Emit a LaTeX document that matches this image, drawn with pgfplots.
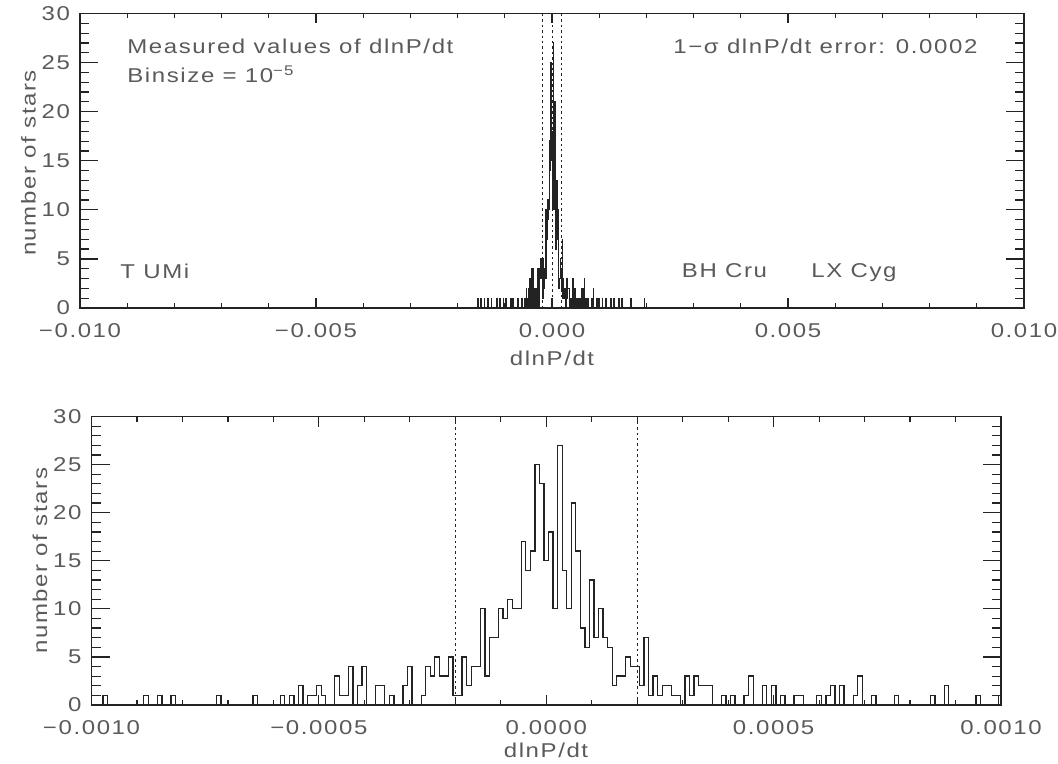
\documentclass[border=0pt]{standalone}
\usepackage{fontspec}
\setmainfont{Liberation Sans}[FakeStretch=1.2,LetterSpace=8]
\usepackage{pgfplots}
\pgfplotsset{compat=1.18}
\usepackage{pgfplotstable}
\definecolor{txt}{RGB}{90,90,90}
\definecolor{ax}{RGB}{35,35,35}

% x in units of 1e-5 (bin centres), n = number of stars
\pgfplotstableread[row sep=\\]{
x n\\
-160 0\\ -158 0\\ -157 1\\ -156 0\\ -151 0\\ -150 1\\ -149 0\\ -144 0\\ -143 1\\ -142 0\\
-136 0\\ -135 1\\ -134 0\\ -129 0\\ -128 1\\ -127 0\\ -118 0\\ -117 1\\ -116 0\\ -111 0\\
-110 1\\ -109 0\\ -104 0\\ -103 1\\ -102 0\\ -98 0\\ -97 1\\ -96 0\\ -89 0\\ -88 1\\
-87 0\\ -86 0\\ -85 1\\ -84 0\\ -83 0\\ -82 1\\ -81 0\\ -73 0\\ -72 1\\ -71 0\\
-65 0\\ -64 1\\ -63 0\\ -59 0\\ -58 1\\ -57 0\\ -56 1\\ -55 0\\ -54 2\\ -53 0\\ -52 1\\ -51 1\\
-50 2\\ -49 1\\ -48 0\\ -47 0\\ -46 3\\ -45 1\\ -44 1\\ -43 4\\ -42 0\\ -41 2\\
-40 4\\ -39 0\\ -38 0\\ -37 2\\ -36 2\\ -35 0\\ -34 1\\ -33 0\\ -32 0\\ -31 2\\
-30 4\\ -29 0\\ -28 0\\ -27 1\\ -26 4\\ -25 3\\ -24 5\\ -23 3\\ -22 3\\ -21 5\\
-20 1\\ -19 1\\ -18 5\\ -17 2\\ -16 4\\ -15 4\\ -14 10\\ -13 3\\ -12 7\\ -11 7\\
-10 10\\ -9 9\\ -8 11\\ -7 10\\ -6 10\\ -5 17\\ -4 14\\ -3 16\\ -2 25\\ -1 23\\
0 15\\ 1 18\\ 2 10\\ 3 27\\ 4 14\\ 5 10\\ 6 21\\ 7 16\\ 8 8\\ 9 6\\
10 13\\ 11 7\\ 12 10\\ 13 7\\ 14 6\\ 15 2\\ 16 3\\ 17 3\\ 18 5\\ 19 4\\
20 4\\ 21 2\\ 22 7\\ 23 1\\ 24 3\\ 25 1\\ 26 2\\ 27 2\\ 28 1\\ 29 1\\
30 0\\ 31 3\\ 32 1\\ 33 3\\ 34 2\\ 35 2\\ 36 2\\ 37 0\\ 38 0\\ 39 1\\
40 0\\ 41 1\\ 42 0\\ 43 0\\ 44 1\\ 45 3\\ 46 0\\ 47 0\\ 48 2\\ 49 0\\
50 2\\ 51 0\\ 52 1\\ 53 0\\ 54 0\\ 55 1\\ 56 1\\ 57 0\\ 58 0\\ 59 0\\
60 1\\ 61 0\\ 62 1\\ 63 2\\ 64 0\\ 65 2\\ 66 0\\ 67 0\\ 68 1\\ 69 3\\
70 0\\ 71 0\\ 72 1\\ 73 0\\ 76 0\\ 77 1\\ 78 0\\ 84 0\\ 85 1\\ 86 0\\
87 0\\ 88 2\\ 89 0\\ 94 0\\ 95 1\\ 96 0\\ 99 0\\ 100 1\\ 101 0\\ 106 0\\
107 1\\ 108 0\\ 113 0\\ 114 1\\ 115 0\\ 124 0\\ 125 1\\ 126 0\\ 131 0\\ 132 1\\
133 0\\ 141 0\\ 142 1\\ 143 0\\ 148 0\\ 149 1\\ 150 0\\ 166 0\\ 167 1\\ 168 0\\
195 0\\ 196 1\\ 197 0\\ 200 0\\
}\hist

\pgfplotsset{
  myaxis/.style={
    scale only axis, anchor=south west,
    ymin=0, ymax=30,
    ytick={0,5,10,15,20,25,30}, yticklabels={0,5,10,15,20,25,30},
    minor x tick num=4, minor y tick num=4,
    axis line style={ax, line width=0.7pt},
    every tick/.style={ax, line width=0.6pt},
    xtick style={/pgfplots/major tick length=5pt,/pgfplots/minor tick length=2.5pt},
    ytick style={/pgfplots/major tick length=9pt,/pgfplots/minor tick length=4.5pt},
    tick label style={font=\fontsize{10}{12}\selectfont, text=txt},
    xticklabel style={yshift=-4pt},
    yticklabel style={xshift=-1.5pt},
    scaled ticks=false,
  },
  histo/.style={const plot mark mid, ax, line width=0.65pt, mark=none},
  sig/.style={ax, line width=0.5pt, dash pattern=on 1.2pt off 1.5pt, mark=none},
}

\begin{document}
\begin{tikzpicture}[font=\fontsize{10}{12}\selectfont]
\path[use as bounding box] (0,0) rectangle (529pt,382pt);

\begin{axis}[myaxis, at={(40pt,228pt)}, width=472pt, height=147.25pt,
  xmin=-1000, xmax=1000, xtick={-1000,-500,0,500,1000},
  xticklabels={−0.010,−0.005,0.000,0.005,0.010}]
\addplot[histo] table[x=x,y=n]{\hist};
\addplot[sig] coordinates {(-20,0) (-20,30)};
\addplot[sig] coordinates {(0,0) (0,30)};
\addplot[sig] coordinates {(20,0) (20,30)};
\end{axis}

\begin{axis}[myaxis, at={(45.75pt,29.5pt)}, width=454.75pt, height=144.25pt,
  xmin=-100, xmax=100, xtick={-100,-50,0,50,100},
  xticklabels={−0.0010,−0.0005,0.0000,0.0005,0.0010}]
\addplot[histo] table[x=x,y=n]{\hist};
\addplot[sig] coordinates {(-20,0) (-20,30)};
\addplot[sig] coordinates {(20,0) (20,30)};
\end{axis}

\begin{scope}[every node/.style={text=txt, inner sep=0pt}]
\node[anchor=base west] at (63.5pt,355pt) {Measured values of dlnP/dt};
\node[anchor=base west] at (63.5pt,340.5pt) {Binsize = 10\textsuperscript{−5}};
\node[anchor=base west] at (336.5pt,355pt) {1−σ dlnP/dt error: 0.0002};
\node[anchor=base west] at (60pt,242.5pt) {T UMi};
\node[anchor=base west] at (340.75pt,243pt) {BH Cru};
\node[anchor=base west] at (405.5pt,243pt) {LX Cyg};
\node[rotate=90, anchor=base] at (17.75pt,300.5pt) {number of stars};
\node[rotate=90, anchor=base] at (23.5pt,101.6pt) {number of stars};
\node[anchor=north] at (276pt,206.5pt) {dlnP/dt};
\node[anchor=north] at (273pt,10.5pt) {dlnP/dt};
\end{scope}
\end{tikzpicture}
\end{document}
